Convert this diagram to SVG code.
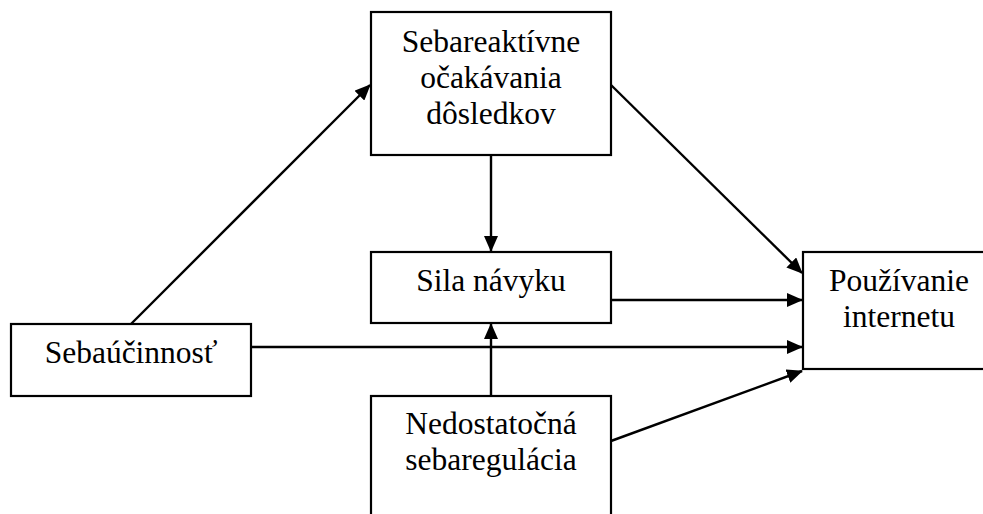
<svg xmlns="http://www.w3.org/2000/svg" width="983" height="514" viewBox="0 0 983 514">
<style>
.box{fill:#fff;stroke:#000;stroke-width:2.2}
.lbl{font-family:'Liberation Serif','Tinos','Times New Roman','DejaVu Serif',serif;font-size:31.5px;fill:#000;text-anchor:middle}
.con line{stroke:#000;stroke-width:2.4;marker-end:url(#ah)}
</style>
<defs>
<marker id="ah" viewBox="0 0 16 14" refX="15" refY="7" markerWidth="16" markerHeight="14" markerUnits="userSpaceOnUse" orient="auto">
<path d="M0,0 L16,7 L0,14 Z" fill="#000"/>
</marker>
</defs>
<rect width="983" height="514" fill="#fff"/>
<g id="n-ocakavania">
<rect class="box" x="371" y="12" width="240" height="143"/>
<text class="lbl" font-family="Liberation Serif" x="491" y="52">Sebareaktívne</text>
<text class="lbl" font-family="Liberation Serif" x="491" y="88">očakávania</text>
<text class="lbl" font-family="Liberation Serif" x="491" y="124">dôsledkov</text>
</g>
<g id="n-sila">
<rect class="box" x="371" y="252" width="240" height="71"/>
<text class="lbl" font-family="Liberation Serif" x="491" y="291">Sila návyku</text>
</g>
<g id="n-sebaucinnost">
<rect class="box" x="11" y="324" width="240" height="72"/>
<text class="lbl" font-family="Liberation Serif" x="131" y="363">Sebaúčinnosť</text>
</g>
<g id="n-nedostatocna">
<rect class="box" x="371" y="396" width="240" height="140"/>
<text class="lbl" font-family="Liberation Serif" x="491" y="434">Nedostatočná</text>
<text class="lbl" font-family="Liberation Serif" x="491" y="470">sebaregulácia</text>
</g>
<g id="n-pouzivanie">
<rect class="box" x="803" y="252" width="192" height="117"/>
<text class="lbl" font-family="Liberation Serif" x="899" y="291">Používanie</text>
<text class="lbl" font-family="Liberation Serif" x="899" y="327">internetu</text>
</g>
<g class="con" id="connectors">
<line x1="131" y1="324" x2="370" y2="85"/>
<line x1="611" y1="85" x2="802" y2="273"/>
<line x1="491" y1="155" x2="491" y2="251"/>
<line x1="611" y1="300" x2="802" y2="300"/>
<line x1="251" y1="347" x2="802" y2="347"/>
<line x1="491" y1="396" x2="491" y2="324"/>
<line x1="611" y1="441" x2="802" y2="371"/>
</g>
</svg>
